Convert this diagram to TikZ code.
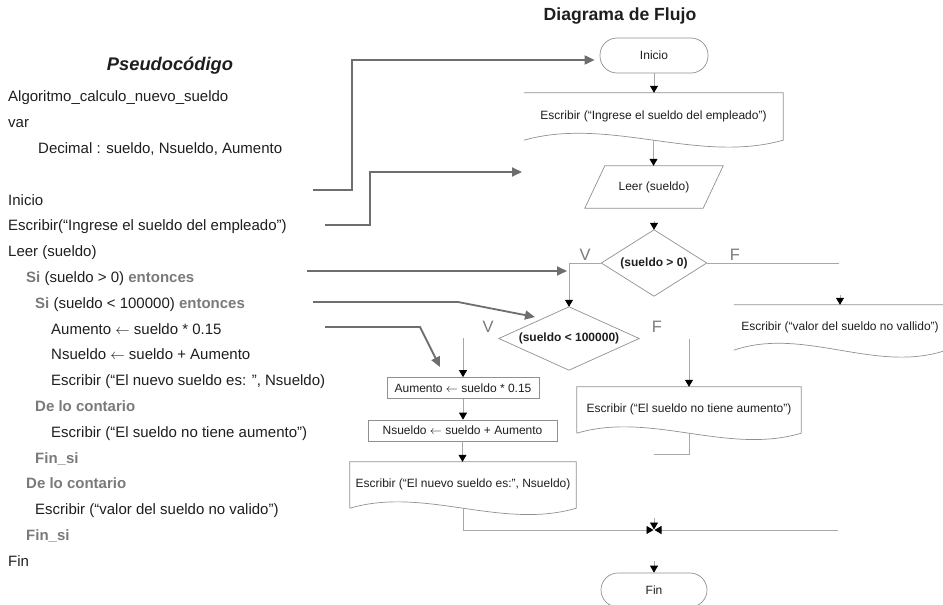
\documentclass[tikz,border=0pt]{standalone}
\usepackage{fontspec}
\setmainfont{Liberation Sans}
\usetikzlibrary{arrows.meta,calc}
\definecolor{txt}{HTML}{1E1E1E}
\definecolor{kwc}{HTML}{7A7A7A}
\definecolor{connc}{HTML}{A8A8A8}
\definecolor{edgec}{HTML}{909090}
\definecolor{parr}{HTML}{6E6E6E}
\newcommand\kw[1]{\textcolor{kwc}{\bfseries #1}}
\newcommand\asg{\ensuremath{\leftarrow}}
\begin{document}
\begin{tikzpicture}[x=1pt,y=-1pt,
  code/.style={anchor=base west, inner sep=0pt, font=\fontsize{15}{18}\selectfont, text=txt},
  fc/.style={font=\fontsize{12}{14}\selectfont, text=txt, inner sep=0pt},
  fcb/.style={font=\fontsize{12}{14}\selectfont\bfseries, text=txt, inner sep=0pt},
  shp/.style={draw=edgec, line width=0.7pt},
  conn/.style={draw=connc, line width=0.8pt, -{Triangle[width=8pt,length=7pt,color=black]}},
  plink/.style={draw=parr, line width=1.8pt, -{Triangle[width=9pt,length=10pt]}},
  lbl/.style={font=\fontsize{16.5}{18}\selectfont, text=kwc, inner sep=0pt}]
\useasboundingbox (0,0) rectangle (943,605);

% ---------- Pseudocode ----------
\node[font=\fontsize{18.3}{20}\selectfont\bfseries\itshape, text=txt] (ptitle) at (170,66) {Pseudocódigo};
\node[code] (c1) at (8,101) {Algoritmo\_calculo\_nuevo\_sueldo};
\node[code] (c2) at (8,127) {var};
\node[code] (c3) at (38,153) {Decimal : sueldo, Nsueldo, Aumento};
\node[code] (c4) at (8,205) {Inicio};
\node[code] (c5) at (8,230.8) {Escribir(“Ingrese el sueldo del empleado”)};
\node[code] (c6) at (8,256.6) {Leer (sueldo)};
\node[code] (c7) at (26,282.4) {\kw{Si} (sueldo > 0) \kw{entonces}};
\node[code] (c8) at (35,308.2) {\kw{Si} (sueldo < 100000) \kw{entonces}};
\node[code] (c9) at (51,334) {Aumento \asg{} sueldo * 0.15};
\node[code] (c10) at (51,359.8) {Nsueldo \asg{} sueldo + Aumento};
\node[code] (c11) at (51,385.6) {Escribir (“El nuevo sueldo es: ”, Nsueldo)};
\node[code] (c12) at (35,411.4) {\kw{De lo contario}};
\node[code] (c13) at (51,437.2) {Escribir (“El sueldo no tiene aumento”)};
\node[code] (c14) at (35,463) {\kw{Fin\_si}};
\node[code] (c15) at (26,488.8) {\kw{De lo contario}};
\node[code] (c16) at (35,514.6) {Escribir (“valor del sueldo no valido”)};
\node[code] (c17) at (26,540.4) {\kw{Fin\_si}};
\node[code] (c18) at (8,566.2) {Fin};

% ---------- Flowchart nodes ----------
\node[font=\fontsize{17.6}{20}\selectfont\bfseries, text=txt] (title) at (620,16) {Diagrama de Flujo};

\node[fc, shp, rounded corners=17pt, minimum width=108pt, minimum height=35pt] (ini) at (654,55.5) {Inicio};

\node[fc, minimum width=259pt, minimum height=47pt] (d1) at (653.5,116.5) {\raisebox{3pt}{Escribir (“Ingrese el sueldo del empleado”)}};
\draw[shp] (d1.north west) -- (d1.north east) -- (d1.south east)
  .. controls ($(d1.south east)!0.33!(d1.south west)+(0,24)$) and ($(d1.south east)!0.67!(d1.south west)+(0,-24)$) .. (d1.south west);

\node[fc, minimum width=118pt, minimum height=42pt] (lr) at (654,187) {Leer (sueldo)};
\draw[shp] ([xshift=10pt]lr.north west) -- ([xshift=10pt]lr.north east) -- ([xshift=-10pt]lr.south east) -- ([xshift=-10pt]lr.south west) -- cycle;

\node[fcb, minimum width=105pt, minimum height=66pt] (dm1) at (654,263) {(sueldo > 0)};
\draw[shp] (dm1.north) -- (dm1.east) -- (dm1.south) -- (dm1.west) -- cycle;

\node[fcb, minimum width=140pt, minimum height=63pt] (dm2) at (569,338.5) {(sueldo < 100000)};
\draw[shp] (dm2.north) -- (dm2.east) -- (dm2.south) -- (dm2.west) -- cycle;

\node[fc, minimum width=212pt, minimum height=45pt] (d4) at (840,327.5) {\raisebox{1.5pt}{Escribir (“valor del sueldo no vallido”)}};
\draw[shp] (d4.north west) -- (d4.north east) -- (d4.south east)
  .. controls ($(d4.south east)!0.33!(d4.south west)+(0,24)$) and ($(d4.south east)!0.67!(d4.south west)+(0,-24)$) .. (d4.south west);

\node[fc, shp, minimum width=152pt, minimum height=21pt] (aum) at (463,388) {Aumento \asg{} sueldo * 0.15};
\node[fc, shp, minimum width=189pt, minimum height=21pt] (ns) at (462.5,430.5) {Nsueldo \asg{} sueldo + Aumento};

\node[fc, minimum width=224pt, minimum height=46pt] (d2) at (689,410) {\raisebox{3pt}{Escribir (“El sueldo no tiene aumento”)}};
\draw[shp] (d2.south west) -- (d2.north west) -- (d2.north east) -- (d2.south east)
  .. controls ($(d2.south east)!0.33!(d2.south west)+(0,22)$) and ($(d2.south east)!0.67!(d2.south west)+(0,-22)$) .. (d2.south west);

\node[fc, minimum width=226pt, minimum height=46pt] (d3) at (463,485) {\raisebox{3pt}{Escribir (“El nuevo sueldo es:”, Nsueldo)}};
\draw[shp] (d3.south west) -- (d3.north west) -- (d3.north east) -- (d3.south east)
  .. controls ($(d3.south east)!0.33!(d3.south west)+(0,22)$) and ($(d3.south east)!0.67!(d3.south west)+(0,-22)$) .. (d3.south west);

\node[fc, shp, rounded corners=17pt, minimum width=106pt, minimum height=34pt] (fin) at (654,590) {Fin};

% labels
\node[lbl] (v1) at (585,255) {V};
\node[lbl] (f1l) at (735,255) {F};
\node[lbl] (v2l) at (488,327) {V};
\node[lbl] (f2l) at (657,327) {F};

% ---------- Flowchart connectors ----------
\draw[conn] (ini.south) -- (ini.south |- d1.north);
\draw[conn] (d1.south) -- (d1.south |- lr.north);
\coordinate (a1) at (654,221);
\draw[conn] (a1) -- (dm1.north);
\draw[conn] (dm1.west) -| (dm2.north);
\coordinate (f1) at (839,263);
\draw[conn,-] (dm1.east) -- (f1);
\coordinate (a4) at (840,295);
\draw[conn] (a4) -- (d4.north);
\coordinate (v2) at (463,338);
\draw[conn] (v2) -- (aum.north);
\coordinate (f2) at (689,339);
\draw[conn] (f2) -- (d2.north);
\draw[conn] (aum.south) -- (aum.south |- ns.north);
\draw[conn] (ns.south) -- (ns.south |- d3.north);
\coordinate (m) at (654,530);
\draw[conn] (d3.south) |- ([xshift=-0.5pt]m);
\coordinate (r4) at (838,530);
\draw[conn] (r4) -- ([xshift=0.5pt]m);
\coordinate (t3) at (654,518);
\draw[conn] (t3) -- ([yshift=0.5pt]m);
\coordinate (j2) at (654,454);
\draw[conn,-] (d2.south) |- (j2);
\coordinate (t5) at (654,561);
\draw[conn] (t5) -- (fin.north);

% ---------- Pseudocode links ----------
\coordinate (p1) at (313,190);
\draw[plink] (p1) -- ++(39,0) |- ([xshift=-5pt,yshift=-4.5pt]ini.west);
\coordinate (p2) at (325,225);
\coordinate (q2) at (522,172);
\draw[plink] (p2) -- ++(45,0) |- (q2);
\coordinate (p3) at (307,271);
\coordinate (q3) at (567,271);
\draw[plink] (p3) -- (q3);
\coordinate (p4) at (313,302);
\coordinate (q4) at (535,317);
\draw[plink] (p4) -- ++(145,0) -- (q4);
\coordinate (p5) at (325,327);
\coordinate (q5) at (440,367);
\draw[plink] (p5) -- ++(95,0) -- (q5);
\end{tikzpicture}
\end{document}
